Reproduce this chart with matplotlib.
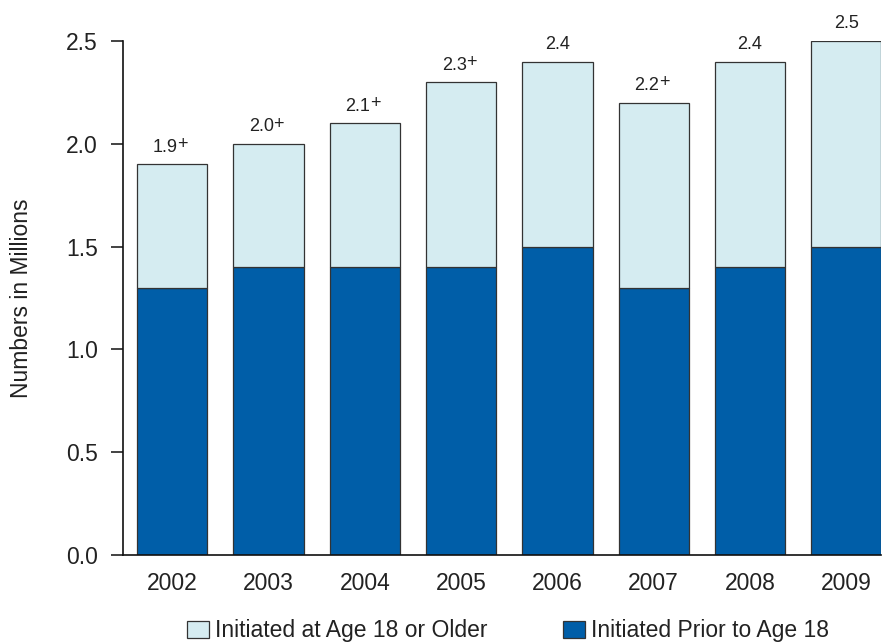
import matplotlib
matplotlib.use("Agg")
import matplotlib.pyplot as plt
from matplotlib.patches import Patch

plt.rcParams["font.family"] = ["Liberation Sans", "DejaVu Sans"]

# Data (numbers in millions)
years = ["2002", "2003", "2004", "2005", "2006", "2007", "2008", "2009"]
prior_to_18 = [1.3, 1.4, 1.4, 1.4, 1.5, 1.3, 1.4, 1.5]
age_18_older = [0.6, 0.6, 0.7, 0.9, 0.9, 0.9, 1.0, 1.0]
sig_diff = [True, True, True, True, False, True, False, False]
y_ticks = [0.0, 0.5, 1.0, 1.5, 2.0, 2.5]

dark_blue = "#005EA8"
light_blue = "#D5ECF1"
edge = "#333333"
text_col = "#222222"
font_main = 16.5
font_value = 13

fig = plt.figure(figsize=(8.83, 6.42), dpi=100)
ax = fig.add_axes([123 / 883, 87 / 642, 758 / 883, 514 / 642])

x = range(len(years))
width = 0.73
ax.bar(x, prior_to_18, width=width, color=dark_blue, edgecolor=edge, linewidth=0.9,
       label="Initiated Prior to Age 18")
ax.bar(x, age_18_older, width=width, bottom=prior_to_18, color=light_blue,
       edgecolor=edge, linewidth=0.9, label="Initiated at Age 18 or Older")

# Totals above each bar; a raised "+" marks a significant difference
for i, (a, b, s) in enumerate(zip(prior_to_18, age_18_older, sig_diff)):
    total = a + b
    if s:
        ax.annotate(f"{total:.1f}", (i, total), xytext=(4.1, 9), textcoords="offset points",
                    ha="right", va="baseline", fontsize=font_value, color=text_col)
        ax.annotate("+", (i, total), xytext=(3.6, 11), textcoords="offset points",
                    ha="left", va="baseline", fontsize=font_value, color=text_col)
    else:
        ax.annotate(f"{total:.1f}", (i, total), xytext=(0, 9), textcoords="offset points",
                    ha="center", va="baseline", fontsize=font_value, color=text_col)

ax.set_xlim(-0.51, 7.36)
ax.set_ylim(0, 2.5)
ax.set_yticks(y_ticks)
ax.set_yticklabels([f"{t:.1f}" for t in y_ticks])
ax.set_xticks(list(x))
ax.set_xticklabels(years)

ax.tick_params(axis="y", direction="out", length=9, width=1.2, pad=9,
               labelsize=font_main, colors=text_col)
ax.tick_params(axis="x", length=0, pad=12, labelsize=font_main, colors=text_col)

for side in ("top", "right"):
    ax.spines[side].set_visible(False)
for side in ("left", "bottom"):
    ax.spines[side].set_linewidth(1.2)
    ax.spines[side].set_color("#111111")

ax.set_ylabel("Numbers in Millions", fontsize=font_main, color=text_col)
ax.yaxis.set_label_coords(-0.119, 0.5)

handles = [
    Patch(facecolor=light_blue, edgecolor=edge, linewidth=0.9, label="Initiated at Age 18 or Older"),
    Patch(facecolor=dark_blue, edgecolor=edge, linewidth=0.9, label="Initiated Prior to Age 18"),
]
fig.legend(handles=handles, loc="center", bbox_to_anchor=(508 / 883, 1 - 631 / 642),
           ncol=2, frameon=False, fontsize=font_main, handlelength=0.95, handleheight=0.8,
           handletextpad=0.26, columnspacing=3.3, labelcolor=text_col)

fig.savefig("out.png", dpi=100)
